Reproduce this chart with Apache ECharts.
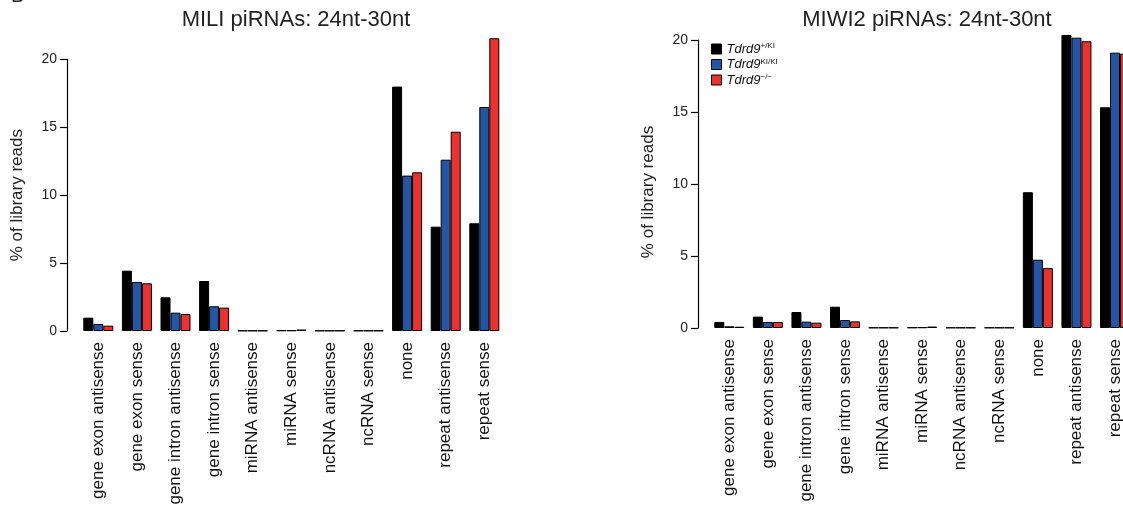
<!DOCTYPE html>
<html>
<head>
<meta charset="utf-8">
<script src="https://cdn.jsdelivr.net/npm/echarts@6/dist/echarts.min.js"></script>
<style>
html,body{margin:0;padding:0;background:#fff;}
#chart{width:1123px;height:513px;}
</style>
</head>
<body>
<div id="chart"></div>
<script>
var categories = ['gene exon antisense','gene exon sense','gene intron antisense','gene intron sense','miRNA antisense','miRNA sense','ncRNA antisense','ncRNA sense','none','repeat antisense','repeat sense'];
var seriesNames = ['Tdrd9+/KI','Tdrd9KI/KI','Tdrd9-/-'];
var superscripts = ['+/KI','KI/KI','\u2212/\u2212'];
var yTicks = [0,5,10,15,20];

// MILI piRNAs
var mili_het = [0.98,4.44,2.48,3.68,0.03,0.05,0.03,0.03,17.99,7.68,7.93];
var mili_ki  = [0.52,3.61,1.35,1.82,0.03,0.05,0.03,0.03,11.44,12.61,16.49];
var mili_ko  = [0.39,3.51,1.25,1.72,0.03,0.11,0.03,0.03,11.68,14.67,21.55];

// MIWI2 piRNAs
var miwi_het = [0.42,0.79,1.11,1.48,0.03,0.04,0.03,0.03,9.43,20.35,15.33];
var miwi_ki  = [0.12,0.42,0.44,0.55,0.03,0.05,0.03,0.03,4.74,20.16,19.12];
var miwi_ko  = [0.09,0.42,0.37,0.46,0.03,0.10,0.03,0.03,4.16,19.91,19.05];

var colors = ['#000000','#2356a6','#ec312e'];
var FONT = 'Liberation Sans, Arial, sans-serif';

var chart = echarts.init(document.getElementById('chart'));

function yAxisDef(gridIndex, gap, pad){
  return {
    type:'value', gridIndex:gridIndex, min:yTicks[0], max:yTicks[yTicks.length-1], interval:5,
    offset:12,
    name:'% of library reads', nameLocation:'middle', nameGap:gap,
    nameTextStyle:{fontSize:17, color:'#222', fontFamily:FONT, padding:pad},
    axisLine:{show:true, lineStyle:{color:'#000', width:1.2}},
    axisTick:{show:true, length:7, lineStyle:{color:'#000', width:1.2}},
    axisLabel:{fontSize:14, color:'#222', margin:10, fontFamily:FONT},
    splitLine:{show:false}
  };
}
function xAxisDef(gridIndex){
  return {
    type:'category', gridIndex:gridIndex, data:categories,
    axisLine:{show:false}, axisTick:{show:false},
    axisLabel:{rotate:90, fontSize:17, color:'#111', margin:11, interval:0, fontFamily:FONT}
  };
}
function barSeries(name, idx, data, axisIndex){
  return {
    type:'bar', name:name, xAxisIndex:axisIndex, yAxisIndex:axisIndex, data:data,
    barWidth:10, barGap:'0%', clip:false,
    itemStyle:{color:colors[idx], borderColor:'#000', borderWidth:1},
    emphasis:{disabled:true}
  };
}

var option = {
  animation:false,
  backgroundColor:'#fff',
  title:[
    {text:'MILI piRNAs: 24nt-30nt', left:291, top:4, textAlign:'center',
     textStyle:{fontSize:22, fontWeight:'normal', color:'#222', fontFamily:FONT}},
    {text:'MIWI2 piRNAs: 24nt-30nt', left:922, top:4, textAlign:'center',
     textStyle:{fontSize:22, fontWeight:'normal', color:'#222', fontFamily:FONT}}
  ],
  graphic:[
    {type:'text', left:11, top:-14, style:{text:'B', fontSize:20, fill:'#222', fontFamily:FONT}}
  ],
  legend:{
    data:seriesNames, orient:'vertical', left:711, top:42, padding:0,
    itemWidth:10, itemHeight:10, itemGap:2, icon:'rect',
    itemStyle:{borderColor:'#000', borderWidth:1},
    formatter:function(name){
      var i = seriesNames.indexOf(name);
      return '{i|Tdrd9}{s|' + superscripts[i] + '}';
    },
    textStyle:{
      fontFamily:FONT,
      rich:{
        i:{fontStyle:'italic', fontSize:13, color:'#111', lineHeight:14, fontFamily:FONT},
        s:{fontSize:8, color:'#111', verticalAlign:'top', lineHeight:14, padding:[0,0,5,0], fontFamily:FONT}
      }
    }
  },
  grid:[
    {left:79, top:59.3, width:424.6, height:271.7, outerBoundsMode:'none'},
    {left:710, top:40, width:424.3, height:288, outerBoundsMode:'none'}
  ],
  xAxis:[xAxisDef(0), xAxisDef(1)],
  yAxis:[yAxisDef(0, 41, [0,0,0,0]), yAxisDef(1, 41, [0,16,0,0])],
  series:[
    barSeries(seriesNames[0],0,mili_het,0),
    barSeries(seriesNames[1],1,mili_ki,0),
    barSeries(seriesNames[2],2,mili_ko,0),
    barSeries(seriesNames[0],0,miwi_het,1),
    barSeries(seriesNames[1],1,miwi_ki,1),
    barSeries(seriesNames[2],2,miwi_ko,1)
  ]
};
chart.setOption(option);
</script>
</body>
</html>
